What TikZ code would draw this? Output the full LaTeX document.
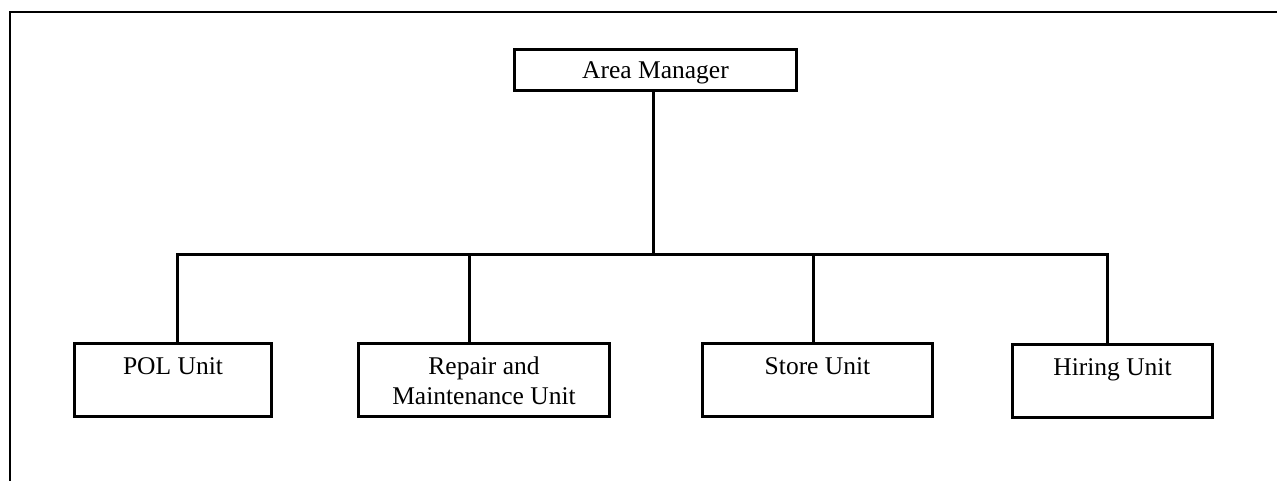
\documentclass[tikz,border=0pt]{standalone}
\usepackage{fontspec}
\setmainfont{Liberation Serif}
\usetikzlibrary{positioning,calc}

% top-aligned text inside a unit box
\newcommand{\celltext}[1]{\parbox[c][73pt][t]{190pt}{\centering\rule{0pt}{30.5pt}#1}}

\begin{document}
\begin{tikzpicture}[
    x=1pt, y=-1pt,
    head/.style={draw, line width=3pt, inner sep=0pt, minimum width=282pt, minimum height=41pt,
      text height=20pt, text depth=2pt, font=\fontsize{25.5}{30}\selectfont},
    unit/.style={draw, line width=3pt, inner sep=0pt, minimum height=73pt, font=\fontsize{25.5}{30}\selectfont},
    link/.style={line width=3pt}
  ]
    \useasboundingbox (0,0) rectangle (1277,481);
    % frame
    \draw[line width=2pt] (10,481) -- (10,12) -- (1277,12);

    \node[head] (head) at (655.5,70) {Area Manager};
    \node[unit, minimum width=197pt] (pol) at (173,380) {\celltext{POL Unit}};
    \node[unit, minimum width=251pt] (repair) at (484,380) {\celltext{Repair and\\Maintenance Unit}};
    \node[unit, minimum width=230pt] (store) at (817.5,380) {\celltext{Store Unit}};
    \node[unit, minimum width=200pt] (hiring) at (1112.5,381) {\celltext{Hiring Unit}};

    \coordinate (bus) at (653,254);
    \draw[link] (bus |- head.south) -- (bus);
    \draw[link] ([xshift=4pt]pol.north) |- (bus) -| ([xshift=-5.5pt]hiring.north);
    \draw[link] ([xshift=-15pt]repair.north) -- ([xshift=-15pt]repair.north |- bus);
    \draw[link] ([xshift=-4.5pt]store.north) -- ([xshift=-4.5pt]store.north |- bus);
  \end{tikzpicture}
\end{document}
